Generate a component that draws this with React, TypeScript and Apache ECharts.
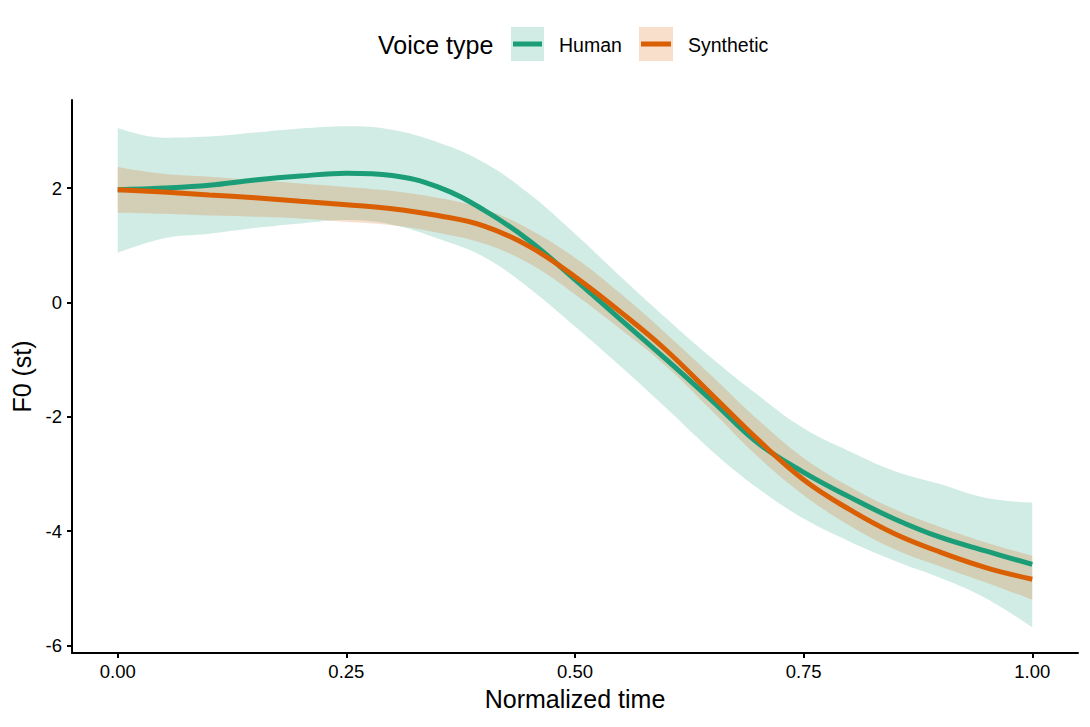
import { useEffect, useRef } from 'react'
import * as echarts from 'echarts'

// normalized time grid
const times = [0, 0.05, 0.1, 0.15, 0.2, 0.25, 0.3, 0.35, 0.4, 0.45, 0.5, 0.55, 0.6, 0.65, 0.7, 0.75, 0.8, 0.85, 0.9, 0.95, 1]

const humanFit = [1.97, 2.0, 2.05, 2.14, 2.21, 2.26, 2.22, 2.02, 1.62, 1.08, 0.4, -0.3, -1.0, -1.72, -2.46, -2.97, -3.4, -3.79, -4.11, -4.35, -4.58]
const humanUpper = [3.05, 2.88, 2.9, 2.97, 3.04, 3.08, 3.02, 2.8, 2.45, 1.9, 1.2, 0.45, -0.28, -0.98, -1.62, -2.2, -2.6, -2.95, -3.18, -3.42, -3.5]
const humanLower = [0.87, 1.12, 1.2, 1.3, 1.38, 1.44, 1.36, 1.12, 0.8, 0.25, -0.42, -1.12, -1.85, -2.6, -3.25, -3.78, -4.18, -4.52, -4.82, -5.18, -5.68]

const synthFit = [1.97, 1.93, 1.88, 1.83, 1.77, 1.71, 1.64, 1.52, 1.34, 0.98, 0.45, -0.17, -0.84, -1.62, -2.4, -3.1, -3.62, -4.05, -4.37, -4.64, -4.84]
const synthUpper = [2.37, 2.25, 2.2, 2.14, 2.08, 2.02, 1.95, 1.83, 1.64, 1.28, 0.78, 0.15, -0.55, -1.29, -2.05, -2.72, -3.22, -3.62, -3.93, -4.2, -4.43]
const synthLower = [1.57, 1.55, 1.52, 1.5, 1.47, 1.41, 1.35, 1.22, 1.03, 0.68, 0.14, -0.47, -1.12, -1.9, -2.7, -3.37, -3.9, -4.32, -4.62, -4.9, -5.2]

const xTicks = [0, 0.25, 0.5, 0.75, 1]
const yTicks = [-6, -4, -2, 0, 2]

const GREEN = '#1B9E77'
const ORANGE = '#D95F02'
const GREEN_FILL = 'rgba(27,158,119,0.2)'
const ORANGE_FILL = 'rgba(217,95,2,0.2)'
const FONT = '"Liberation Sans", Arial, sans-serif'

// rows are [value, time] so that stacking acts on the value column
const rows = (ys: number[]) => times.map((t, i) => [ys[i], t])
const spans = (hi: number[], lo: number[]) => times.map((t, i) => [hi[i] - lo[i], t])

const band = (name: string, stack: string, data: number[][], fill?: string) => ({
  name,
  type: 'line',
  stack,
  stackStrategy: 'all',
  data,
  encode: { x: 1, y: 0 },
  smooth: 0.4,
  symbol: 'none',
  silent: true,
  lineStyle: { width: 0, opacity: 0 },
  areaStyle: fill ? { color: fill, opacity: 1 } : undefined,
})

const fitLine = (name: string, data: number[][], color: string) => ({
  name,
  type: 'line',
  data,
  encode: { x: 1, y: 0 },
  smooth: 0.4,
  symbol: 'none',
  z: 5,
  lineStyle: { color, width: 5 },
})

export const App = () => {
  const chartRef = useRef<HTMLDivElement>(null)

  useEffect(() => {
    const chart = echarts.init(chartRef.current, null, { renderer: 'svg' })

    const legendKey = (x: number, w: number, fill: string, color: string, label: string, labelX: number) => [
      { type: 'rect', shape: { x, y: 27, width: w, height: 34 }, style: { fill } },
      { type: 'line', shape: { x1: x + 2, y1: 44, x2: x + w - 2, y2: 44 }, style: { stroke: color, lineWidth: 5 } },
      {
        type: 'text',
        x: labelX,
        y: 45,
        style: { text: label, fontSize: 19.5, fontFamily: FONT, fill: '#000', verticalAlign: 'middle' },
      },
    ]

    const option = {
      animation: false,
      backgroundColor: '#fff',
      grid: { left: 72, right: 12, top: 100, bottom: 74 },
      xAxis: {
        type: 'value',
        min: -0.05,
        max: 1.05,
        name: 'Normalized time',
        nameLocation: 'middle',
        nameGap: 33,
        nameTextStyle: { fontSize: 25, fontFamily: FONT, color: '#000' },
        axisLine: { onZero: false, lineStyle: { color: '#000', width: 2 } },
        axisTick: { show: true, length: 5, customValues: xTicks, lineStyle: { color: '#000', width: 2 } },
        axisLabel: {
          customValues: xTicks,
          margin: 9,
          fontSize: 18.5,
          fontFamily: FONT,
          color: '#000',
          formatter: (v: number) => v.toFixed(2),
        },
        splitLine: { show: false },
      },
      yAxis: {
        type: 'value',
        min: -6.13,
        max: 3.54,
        name: 'F0 (st)',
        nameLocation: 'middle',
        nameGap: 36,
        nameTextStyle: { fontSize: 25, fontFamily: FONT, color: '#000' },
        axisLine: { show: true, onZero: false, lineStyle: { color: '#000', width: 2 } },
        axisTick: { show: true, length: 5, customValues: yTicks, lineStyle: { color: '#000', width: 2 } },
        axisLabel: { customValues: yTicks, margin: 10, fontSize: 18.5, fontFamily: FONT, color: '#000' },
        splitLine: { show: false },
      },
      graphic: [
        {
          type: 'text',
          x: 378,
          y: 45,
          style: { text: 'Voice type', fontSize: 25, fontFamily: FONT, fill: '#000', verticalAlign: 'middle' },
        },
        ...legendKey(511, 33, GREEN_FILL, GREEN, 'Human', 559),
        ...legendKey(639, 34, ORANGE_FILL, ORANGE, 'Synthetic', 688),
      ],
      series: [
        band('human-lo', 'human', rows(humanLower)),
        band('human-ci', 'human', spans(humanUpper, humanLower), GREEN_FILL),
        band('synth-lo', 'synth', rows(synthLower)),
        band('synth-ci', 'synth', spans(synthUpper, synthLower), ORANGE_FILL),
        fitLine('Human', rows(humanFit), GREEN),
        fitLine('Synthetic', rows(synthFit), ORANGE),
      ],
    }

    chart.setOption(option)

    return () => {
      chart.dispose()
    }
  }, [])

  return <div ref={chartRef} style={{ position: 'absolute', left: 0, top: 0, width: '1090px', height: '727px' }} />
}

export default App
